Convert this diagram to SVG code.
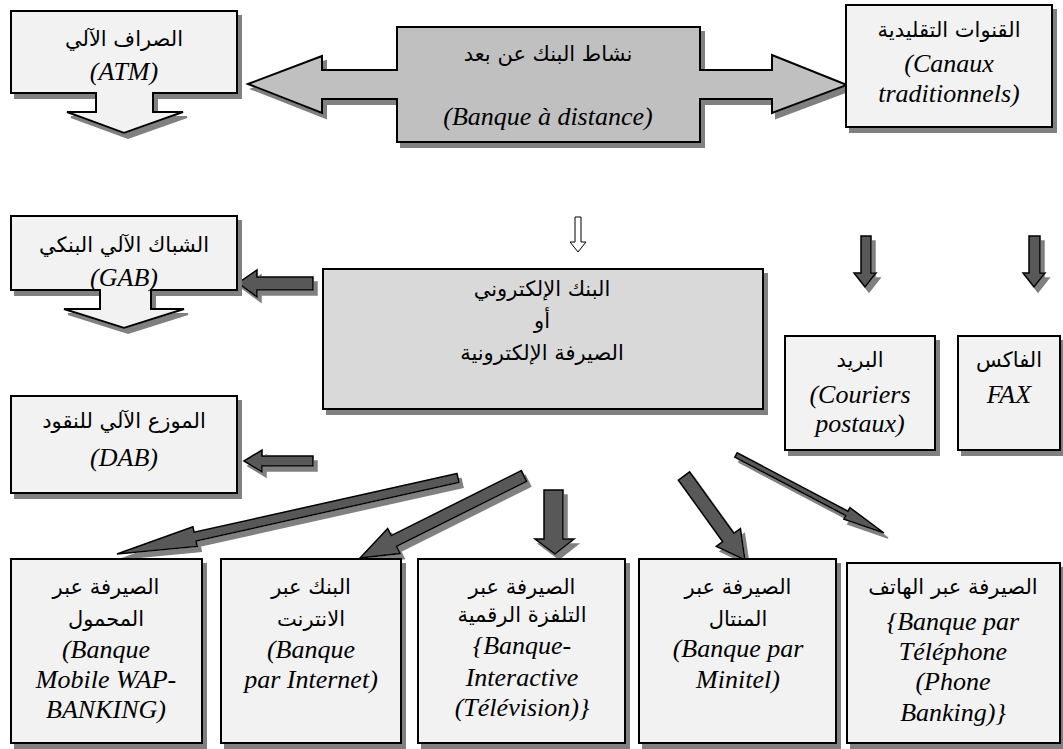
<svg xmlns="http://www.w3.org/2000/svg" width="1063" height="749" viewBox="0 0 1063 749">
<defs>
<filter id="sh" filterUnits="userSpaceOnUse" x="0" y="0" width="1063" height="749">
<feFlood flood-color="#808080" result="c"/>
<feComposite in="c" in2="SourceAlpha" operator="in" result="s"/>
<feOffset in="s" dx="4" dy="5" result="o"/>
<feMerge><feMergeNode in="o"/><feMergeNode in="SourceGraphic"/></feMerge>
</filter>
<style>
.box{fill:#f2f2f2;stroke:#000;stroke-width:2;filter:url(#sh)}
.mid{fill:#c0c0c0;stroke:#000;stroke-width:2;filter:url(#sh)}
.center{fill:#d9d9d9;stroke:#000;stroke-width:2;filter:url(#sh)}
.dark{fill:#595959;stroke:#000;stroke-width:1.5;stroke-linejoin:miter;filter:url(#sh)}
.hollow{fill:#fff;stroke:#000;stroke-width:1}
.ar{font-family:'DejaVu Sans',sans-serif;font-size:21px;text-anchor:middle;fill:#000}
.la{font-family:'Liberation Serif',serif;font-style:italic;font-size:26px;text-anchor:middle;fill:#000}
</style>
</defs>
<rect width="1063" height="749" fill="#fff"/>

<g id="connectors">
<path class="mid" d="M248,84 L322,56 L322,70 L397,70 L397,27 L700,27 L700,70 L772,70 L772,55 L847,85 L772,113 L772,99 L700,99 L700,142 L397,142 L397,99 L322,99 L322,113 Z"/>
<path class="hollow" d="M575,217 H581 V242 H586 L578,252 L570,242 H575 Z"/>
<path class="dark" d="M861,236 H871 V273 H876 L865,287 L854,273 H861 Z"/>
<path class="dark" d="M1029,236 H1040 V273 H1045 L1034,287 L1023,273 H1029 Z"/>
<path class="dark" d="M238,283 L257,270 V277 H313 V290 H257 V297 Z"/>
<path class="dark" d="M244,461 L262,450 V456 H313 V466 H262 V472 Z"/>
<path class="dark" d="M457,473.6 L194.1,532.2 L192.9,526.8 L117,554 L197.3,546.4 L196.1,541 L459,482.4 Z"/>
<path class="dark" d="M521.3,470.6 L391.3,535.6 L387.7,528.5 L360,558 L400.2,553.5 L396.6,546.4 L526.7,481.4 Z"/>
<path class="dark" d="M544,490 H563 V539 H574 L555,554 L535,539 H544 Z"/>
<path class="dark" d="M678.4,480.2 L722.7,541.7 L716.3,546.4 L745,560 L740.4,528.6 L733.9,533.3 L689.6,471.8 Z"/>
<path class="dark" d="M734.8,457.2 L845.7,515.6 L843.8,519.2 L884,533 L849.9,507.7 L848,511.2 L737.2,452.8 Z"/>
</g>

<g id="banque-distance">
<text class="ar" x="548" y="61">نشاط البنك عن بعد</text>
<text class="la" x="548" y="125">(Banque à distance)</text>
</g>

<g id="atm">
<path class="box" d="M11,11 H237 V93 H153 V112 H183 L124,133 L67,112 H96 V93 H11 Z"/>
<text class="ar" x="124" y="46">الصراف الآلي</text>
<text class="la" x="124" y="80">(ATM)</text>
</g>

<g id="canaux">
<rect class="box" x="846" y="5" width="206" height="122"/>
<text class="ar" x="949" y="37">القنوات التقليدية</text>
<text class="la" x="949" y="72">(Canaux</text>
<text class="la" x="949" y="102">traditionnels)</text>
</g>

<g id="gab">
<path class="box" d="M11,216 H237 V290 H151 V309 H184 L124,328 L64,309 H100 V290 H11 Z"/>
<text class="ar" x="124" y="252">الشباك الآلي البنكي</text>
<text class="la" x="124" y="286">(GAB)</text>
</g>

<g id="ebank">
<rect class="center" x="323" y="269" width="440" height="140"/>
<text class="ar" x="542" y="296">البنك الإلكتروني</text>
<text class="ar" x="542" y="328">أو</text>
<text class="ar" x="542" y="360">الصيرفة الإلكترونية</text>
</g>

<g id="courrier">
<rect class="box" x="785" y="336" width="150" height="114"/>
<text class="ar" x="860" y="367">البريد</text>
<text class="la" x="860" y="403">(Couriers</text>
<text class="la" x="860" y="432">postaux)</text>
</g>

<g id="fax">
<rect class="box" x="958" y="336" width="102" height="114"/>
<text class="ar" x="1009" y="367">الفاكس</text>
<text class="la" x="1009" y="403">FAX</text>
</g>

<g id="dab">
<rect class="box" x="11" y="396" width="226" height="97"/>
<text class="ar" x="124" y="428">الموزع الآلي للنقود</text>
<text class="la" x="124" y="466">(DAB)</text>
</g>

<g id="mobile">
<rect class="box" x="11" y="559" width="191" height="184"/>
<text class="ar" x="106" y="594">الصيرفة عبر</text>
<text class="ar" x="106" y="626">المحمول</text>
<text class="la" x="106" y="658">(Banque</text>
<text class="la" x="106" y="688">Mobile WAP-</text>
<text class="la" x="106" y="718">BANKING)</text>
</g>

<g id="internet">
<rect class="box" x="221" y="559" width="180" height="184"/>
<text class="ar" x="311" y="594">البنك عبر</text>
<text class="ar" x="311" y="626">الانترنت</text>
<text class="la" x="311" y="658">(Banque</text>
<text class="la" x="311" y="688">par Internet)</text>
</g>

<g id="television">
<rect class="box" x="418" y="559" width="207" height="184"/>
<text class="ar" x="522" y="594">الصيرفة عبر</text>
<text class="ar" x="522" y="622">التلفزة الرقمية</text>
<text class="la" x="522" y="654">{Banque-</text>
<text class="la" x="522" y="686">Interactive</text>
<text class="la" x="522" y="716">(Télévision)}</text>
</g>

<g id="minitel">
<rect class="box" x="639" y="559" width="197" height="184"/>
<text class="ar" x="738" y="594">الصيرفة عبر</text>
<text class="ar" x="738" y="626">المنتال</text>
<text class="la" x="738" y="657">(Banque par</text>
<text class="la" x="738" y="688">Minitel)</text>
</g>

<g id="telephone">
<rect class="box" x="847" y="563" width="213" height="180"/>
<text class="ar" x="953" y="594">الصيرفة عبر الهاتف</text>
<text class="la" x="953" y="630">{Banque par</text>
<text class="la" x="953" y="660">Téléphone</text>
<text class="la" x="953" y="690">(Phone</text>
<text class="la" x="953" y="721">Banking)}</text>
</g>
</svg>
